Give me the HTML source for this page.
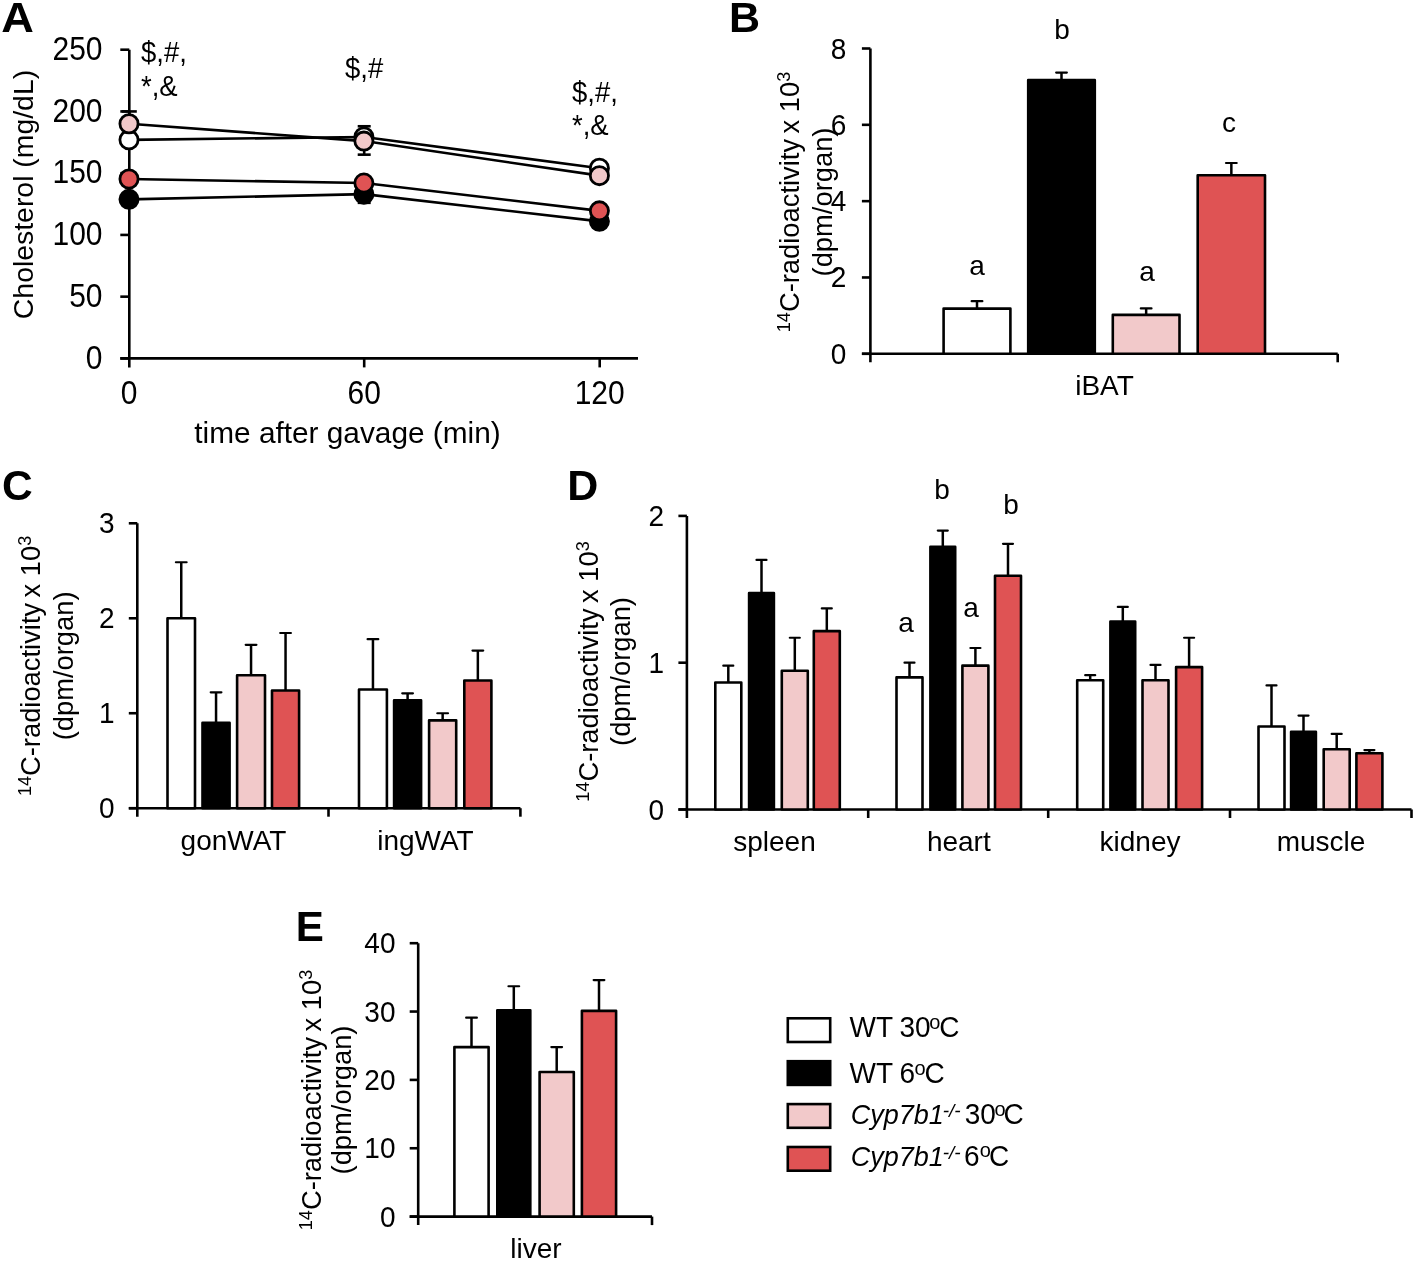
<!DOCTYPE html>
<html><head><meta charset="utf-8"><title>Figure</title>
<style>
html,body{margin:0;padding:0;background:#fff;}
body{width:1415px;height:1261px;overflow:hidden;}
svg{display:block;will-change:transform;}
text{font-family:"Liberation Sans", sans-serif;fill:#000;}
</style></head><body>
<svg width="1415" height="1261" viewBox="0 0 1415 1261">
<rect width="1415" height="1261" fill="#fff"/>
<text transform="translate(1.30 32.40) scale(1.05 1.0)" font-size="43" text-anchor="start" font-weight="bold" >A</text>
<text x="729.00" y="32.40" font-size="43" text-anchor="start" font-weight="bold" >B</text>
<text transform="translate(2.00 500.20) scale(0.99 1.0)" font-size="43" text-anchor="start" font-weight="bold" >C</text>
<text x="567.20" y="500.10" font-size="43" text-anchor="start" font-weight="bold" >D</text>
<text transform="translate(295.70 941.10) scale(0.98 1.0)" font-size="43" text-anchor="start" font-weight="bold" >E</text>
<line x1="129.30" y1="49.70" x2="129.30" y2="367.40" stroke="#000" stroke-width="2.6" stroke-linecap="butt"/>
<line x1="120.30" y1="358.40" x2="129.30" y2="358.40" stroke="#000" stroke-width="2.6" stroke-linecap="butt"/>
<text transform="translate(102.50 368.70) scale(1.0 1.09)" font-size="30" text-anchor="end" font-weight="normal" >0</text>
<line x1="120.30" y1="296.66" x2="129.30" y2="296.66" stroke="#000" stroke-width="2.6" stroke-linecap="butt"/>
<text transform="translate(102.50 306.96) scale(1.0 1.09)" font-size="30" text-anchor="end" font-weight="normal" >50</text>
<line x1="120.30" y1="234.92" x2="129.30" y2="234.92" stroke="#000" stroke-width="2.6" stroke-linecap="butt"/>
<text transform="translate(102.50 245.22) scale(1.0 1.09)" font-size="30" text-anchor="end" font-weight="normal" >100</text>
<line x1="120.30" y1="173.18" x2="129.30" y2="173.18" stroke="#000" stroke-width="2.6" stroke-linecap="butt"/>
<text transform="translate(102.50 183.48) scale(1.0 1.09)" font-size="30" text-anchor="end" font-weight="normal" >150</text>
<line x1="120.30" y1="111.44" x2="129.30" y2="111.44" stroke="#000" stroke-width="2.6" stroke-linecap="butt"/>
<text transform="translate(102.50 121.74) scale(1.0 1.09)" font-size="30" text-anchor="end" font-weight="normal" >200</text>
<line x1="120.30" y1="49.70" x2="129.30" y2="49.70" stroke="#000" stroke-width="2.6" stroke-linecap="butt"/>
<text transform="translate(102.50 60.00) scale(1.0 1.09)" font-size="30" text-anchor="end" font-weight="normal" >250</text>
<line x1="120.30" y1="358.40" x2="638.00" y2="358.40" stroke="#000" stroke-width="2.6" stroke-linecap="butt"/>
<line x1="364.20" y1="358.40" x2="364.20" y2="367.40" stroke="#000" stroke-width="2.6" stroke-linecap="butt"/>
<line x1="599.70" y1="358.40" x2="599.70" y2="367.40" stroke="#000" stroke-width="2.6" stroke-linecap="butt"/>
<text transform="translate(129.00 404.00) scale(1.0 1.08)" font-size="30" text-anchor="middle" font-weight="normal" >0</text>
<text transform="translate(364.20 404.00) scale(1.0 1.08)" font-size="30" text-anchor="middle" font-weight="normal" >60</text>
<text transform="translate(599.70 404.00) scale(1.0 1.08)" font-size="30" text-anchor="middle" font-weight="normal" >120</text>
<text x="347.50" y="443.00" font-size="29.8" text-anchor="middle" font-weight="normal" >time after gavage (min)</text>
<text transform="translate(33 194.5) rotate(-90)" font-size="28.4" text-anchor="middle">Cholesterol (mg/dL)</text>
<line x1="129.30" y1="123.79" x2="129.30" y2="111.44" stroke="#000" stroke-width="2.6" stroke-linecap="butt"/>
<line x1="121.80" y1="111.44" x2="136.80" y2="111.44" stroke="#000" stroke-width="2.6" stroke-linecap="butt"/>
<line x1="364.20" y1="136.14" x2="364.20" y2="126.26" stroke="#000" stroke-width="2.6" stroke-linecap="butt"/>
<line x1="357.70" y1="126.26" x2="370.70" y2="126.26" stroke="#000" stroke-width="2.6" stroke-linecap="butt"/>
<line x1="364.20" y1="141.08" x2="364.20" y2="154.66" stroke="#000" stroke-width="2.6" stroke-linecap="butt"/>
<line x1="357.70" y1="154.66" x2="370.70" y2="154.66" stroke="#000" stroke-width="2.6" stroke-linecap="butt"/>
<line x1="364.20" y1="194.17" x2="364.20" y2="202.82" stroke="#000" stroke-width="2.6" stroke-linecap="butt"/>
<line x1="357.70" y1="202.82" x2="370.70" y2="202.82" stroke="#000" stroke-width="2.6" stroke-linecap="butt"/>
<polyline points="129.30,199.36 364.20,194.17 599.70,221.34" fill="none" stroke="#000" stroke-width="2.6"/>
<polyline points="129.30,178.98 364.20,183.06 599.70,210.84" fill="none" stroke="#000" stroke-width="2.6"/>
<polyline points="129.30,139.84 364.20,137.00 599.70,168.24" fill="none" stroke="#000" stroke-width="2.6"/>
<polyline points="129.30,123.79 364.20,141.08 599.70,175.65" fill="none" stroke="#000" stroke-width="2.6"/>
<circle cx="129.00" cy="199.36" r="9.1" fill="#000000" stroke="#000" stroke-width="2.8"/>
<circle cx="363.90" cy="194.17" r="9.1" fill="#000000" stroke="#000" stroke-width="2.8"/>
<circle cx="599.40" cy="221.34" r="9.1" fill="#000000" stroke="#000" stroke-width="2.8"/>
<circle cx="129.00" cy="178.98" r="9.1" fill="#df5354" stroke="#000" stroke-width="2.8"/>
<circle cx="363.90" cy="183.06" r="9.1" fill="#df5354" stroke="#000" stroke-width="2.8"/>
<circle cx="599.40" cy="210.84" r="9.1" fill="#df5354" stroke="#000" stroke-width="2.8"/>
<circle cx="129.00" cy="139.84" r="9.1" fill="#ffffff" stroke="#000" stroke-width="2.8"/>
<circle cx="363.90" cy="137.00" r="9.1" fill="#ffffff" stroke="#000" stroke-width="2.8"/>
<circle cx="599.40" cy="168.24" r="9.1" fill="#ffffff" stroke="#000" stroke-width="2.8"/>
<circle cx="129.00" cy="123.79" r="9.1" fill="#f2c9ca" stroke="#000" stroke-width="2.8"/>
<circle cx="363.90" cy="141.08" r="9.1" fill="#f2c9ca" stroke="#000" stroke-width="2.8"/>
<circle cx="599.40" cy="175.65" r="9.1" fill="#f2c9ca" stroke="#000" stroke-width="2.8"/>
<text transform="translate(141.00 62.00) scale(1.0 1.1)" font-size="27.5" text-anchor="start" font-weight="normal" >$,#,</text>
<text transform="translate(141.00 96.00) scale(1.0 1.1)" font-size="27.5" text-anchor="start" font-weight="normal" >*,&amp;</text>
<text transform="translate(345.00 78.00) scale(1.0 1.1)" font-size="27.5" text-anchor="start" font-weight="normal" >$,#</text>
<text transform="translate(572.00 101.50) scale(1.0 1.1)" font-size="27.5" text-anchor="start" font-weight="normal" >$,#,</text>
<text transform="translate(572.00 135.00) scale(1.0 1.1)" font-size="27.5" text-anchor="start" font-weight="normal" >*,&amp;</text>
<line x1="870.40" y1="48.50" x2="870.40" y2="362.30" stroke="#000" stroke-width="2.6" stroke-linecap="butt"/>
<line x1="861.90" y1="353.80" x2="870.40" y2="353.80" stroke="#000" stroke-width="2.6" stroke-linecap="butt"/>
<text transform="translate(846.30 363.80) scale(1.0 1.06)" font-size="28" text-anchor="end" font-weight="normal" >0</text>
<line x1="861.90" y1="277.48" x2="870.40" y2="277.48" stroke="#000" stroke-width="2.6" stroke-linecap="butt"/>
<text transform="translate(846.30 287.48) scale(1.0 1.06)" font-size="28" text-anchor="end" font-weight="normal" >2</text>
<line x1="861.90" y1="201.15" x2="870.40" y2="201.15" stroke="#000" stroke-width="2.6" stroke-linecap="butt"/>
<text transform="translate(846.30 211.15) scale(1.0 1.06)" font-size="28" text-anchor="end" font-weight="normal" >4</text>
<line x1="861.90" y1="124.82" x2="870.40" y2="124.82" stroke="#000" stroke-width="2.6" stroke-linecap="butt"/>
<text transform="translate(846.30 134.82) scale(1.0 1.06)" font-size="28" text-anchor="end" font-weight="normal" >6</text>
<line x1="861.90" y1="48.50" x2="870.40" y2="48.50" stroke="#000" stroke-width="2.6" stroke-linecap="butt"/>
<text transform="translate(846.30 58.50) scale(1.0 1.06)" font-size="28" text-anchor="end" font-weight="normal" >8</text>
<line x1="861.90" y1="353.80" x2="1337.70" y2="353.80" stroke="#000" stroke-width="2.6" stroke-linecap="butt"/>
<line x1="1337.70" y1="353.80" x2="1337.70" y2="362.30" stroke="#000" stroke-width="2.6" stroke-linecap="butt"/>
<rect x="943.60" y="308.58" width="66.80" height="45.22" fill="#ffffff" stroke="#000" stroke-width="2.6" stroke-linejoin="round"/>
<line x1="977.00" y1="308.58" x2="977.00" y2="301.21" stroke="#000" stroke-width="2.5" stroke-linecap="butt"/>
<line x1="971.65" y1="301.21" x2="982.35" y2="301.21" stroke="#000" stroke-width="2.2" stroke-linecap="round"/>
<rect x="1028.20" y="80.17" width="66.60" height="273.63" fill="#000000" stroke="#000" stroke-width="2.6" stroke-linejoin="round"/>
<line x1="1061.50" y1="80.17" x2="1061.50" y2="72.54" stroke="#000" stroke-width="2.5" stroke-linecap="butt"/>
<line x1="1056.15" y1="72.54" x2="1066.85" y2="72.54" stroke="#000" stroke-width="2.2" stroke-linecap="round"/>
<rect x="1112.80" y="314.87" width="66.70" height="38.93" fill="#f2c9ca" stroke="#000" stroke-width="2.6" stroke-linejoin="round"/>
<line x1="1146.15" y1="314.87" x2="1146.15" y2="308.39" stroke="#000" stroke-width="2.5" stroke-linecap="butt"/>
<line x1="1140.80" y1="308.39" x2="1151.50" y2="308.39" stroke="#000" stroke-width="2.2" stroke-linecap="round"/>
<rect x="1197.70" y="175.20" width="67.30" height="178.60" fill="#df5354" stroke="#000" stroke-width="2.6" stroke-linejoin="round"/>
<line x1="1231.35" y1="175.20" x2="1231.35" y2="162.99" stroke="#000" stroke-width="2.5" stroke-linecap="butt"/>
<line x1="1226.00" y1="162.99" x2="1236.70" y2="162.99" stroke="#000" stroke-width="2.2" stroke-linecap="round"/>
<text x="977.00" y="275.00" font-size="28" text-anchor="middle" font-weight="normal" >a</text>
<text x="1062.00" y="39.20" font-size="28" text-anchor="middle" font-weight="normal" >b</text>
<text x="1147.00" y="281.00" font-size="28" text-anchor="middle" font-weight="normal" >a</text>
<text x="1229.00" y="131.50" font-size="28" text-anchor="middle" font-weight="normal" >c</text>
<text x="1104.50" y="395.40" font-size="28" text-anchor="middle" font-weight="normal" >iBAT</text>
<text transform="translate(799.00 202.00) rotate(-90) scale(0.977 1)" font-size="28" text-anchor="middle"><tspan font-size="18.5" dy="-9">14</tspan><tspan dy="9">C-radioactivity</tspan><tspan dx="-2.2"> x 10</tspan><tspan font-size="18.5" dy="-9">3</tspan></text>
<text transform="translate(832.00 202.00) rotate(-90) scale(0.977 1)" font-size="28" text-anchor="middle">(dpm/organ)</text>
<line x1="137.30" y1="523.30" x2="137.30" y2="816.70" stroke="#000" stroke-width="2.6" stroke-linecap="butt"/>
<line x1="128.80" y1="808.20" x2="137.30" y2="808.20" stroke="#000" stroke-width="2.6" stroke-linecap="butt"/>
<text transform="translate(114.50 818.20) scale(1.0 1.06)" font-size="28" text-anchor="end" font-weight="normal" >0</text>
<line x1="128.80" y1="713.23" x2="137.30" y2="713.23" stroke="#000" stroke-width="2.6" stroke-linecap="butt"/>
<text transform="translate(114.50 723.23) scale(1.0 1.06)" font-size="28" text-anchor="end" font-weight="normal" >1</text>
<line x1="128.80" y1="618.27" x2="137.30" y2="618.27" stroke="#000" stroke-width="2.6" stroke-linecap="butt"/>
<text transform="translate(114.50 628.27) scale(1.0 1.06)" font-size="28" text-anchor="end" font-weight="normal" >2</text>
<line x1="128.80" y1="523.30" x2="137.30" y2="523.30" stroke="#000" stroke-width="2.6" stroke-linecap="butt"/>
<text transform="translate(114.50 533.30) scale(1.0 1.06)" font-size="28" text-anchor="end" font-weight="normal" >3</text>
<line x1="128.80" y1="808.20" x2="520.40" y2="808.20" stroke="#000" stroke-width="2.6" stroke-linecap="butt"/>
<line x1="328.50" y1="808.20" x2="328.50" y2="816.70" stroke="#000" stroke-width="2.6" stroke-linecap="butt"/>
<line x1="520.40" y1="808.20" x2="520.40" y2="816.70" stroke="#000" stroke-width="2.6" stroke-linecap="butt"/>
<rect x="167.50" y="618.27" width="27.50" height="189.93" fill="#ffffff" stroke="#000" stroke-width="2.6" stroke-linejoin="round"/>
<line x1="181.25" y1="618.27" x2="181.25" y2="562.24" stroke="#000" stroke-width="2.5" stroke-linecap="butt"/>
<line x1="175.90" y1="562.24" x2="186.60" y2="562.24" stroke="#000" stroke-width="2.2" stroke-linecap="round"/>
<rect x="202.50" y="722.73" width="27.10" height="85.47" fill="#000000" stroke="#000" stroke-width="2.6" stroke-linejoin="round"/>
<line x1="216.05" y1="722.73" x2="216.05" y2="692.34" stroke="#000" stroke-width="2.5" stroke-linecap="butt"/>
<line x1="210.70" y1="692.34" x2="221.40" y2="692.34" stroke="#000" stroke-width="2.2" stroke-linecap="round"/>
<rect x="237.10" y="675.25" width="27.90" height="132.95" fill="#f2c9ca" stroke="#000" stroke-width="2.6" stroke-linejoin="round"/>
<line x1="251.05" y1="675.25" x2="251.05" y2="644.86" stroke="#000" stroke-width="2.5" stroke-linecap="butt"/>
<line x1="245.70" y1="644.86" x2="256.40" y2="644.86" stroke="#000" stroke-width="2.2" stroke-linecap="round"/>
<rect x="272.00" y="690.44" width="27.10" height="117.76" fill="#df5354" stroke="#000" stroke-width="2.6" stroke-linejoin="round"/>
<line x1="285.55" y1="690.44" x2="285.55" y2="632.99" stroke="#000" stroke-width="2.5" stroke-linecap="butt"/>
<line x1="280.20" y1="632.99" x2="290.90" y2="632.99" stroke="#000" stroke-width="2.2" stroke-linecap="round"/>
<rect x="359.00" y="689.49" width="27.90" height="118.71" fill="#ffffff" stroke="#000" stroke-width="2.6" stroke-linejoin="round"/>
<line x1="372.95" y1="689.49" x2="372.95" y2="639.16" stroke="#000" stroke-width="2.5" stroke-linecap="butt"/>
<line x1="367.60" y1="639.16" x2="378.30" y2="639.16" stroke="#000" stroke-width="2.2" stroke-linecap="round"/>
<rect x="394.10" y="700.41" width="27.00" height="107.79" fill="#000000" stroke="#000" stroke-width="2.6" stroke-linejoin="round"/>
<line x1="407.60" y1="700.41" x2="407.60" y2="693.29" stroke="#000" stroke-width="2.5" stroke-linecap="butt"/>
<line x1="402.25" y1="693.29" x2="412.95" y2="693.29" stroke="#000" stroke-width="2.2" stroke-linecap="round"/>
<rect x="429.10" y="720.36" width="27.10" height="87.84" fill="#f2c9ca" stroke="#000" stroke-width="2.6" stroke-linejoin="round"/>
<line x1="442.65" y1="720.36" x2="442.65" y2="713.23" stroke="#000" stroke-width="2.5" stroke-linecap="butt"/>
<line x1="437.30" y1="713.23" x2="448.00" y2="713.23" stroke="#000" stroke-width="2.2" stroke-linecap="round"/>
<rect x="464.30" y="680.47" width="27.10" height="127.73" fill="#df5354" stroke="#000" stroke-width="2.6" stroke-linejoin="round"/>
<line x1="477.85" y1="680.47" x2="477.85" y2="650.56" stroke="#000" stroke-width="2.5" stroke-linecap="butt"/>
<line x1="472.50" y1="650.56" x2="483.20" y2="650.56" stroke="#000" stroke-width="2.2" stroke-linecap="round"/>
<text x="233.50" y="850.00" font-size="28" text-anchor="middle" font-weight="normal" >gonWAT</text>
<text x="425.40" y="850.00" font-size="28" text-anchor="middle" font-weight="normal" >ingWAT</text>
<text transform="translate(40.00 665.90) rotate(-90) scale(0.977 1)" font-size="28" text-anchor="middle"><tspan font-size="18.5" dy="-9">14</tspan><tspan dy="9">C-radioactivity</tspan><tspan dx="-2.2"> x 10</tspan><tspan font-size="18.5" dy="-9">3</tspan></text>
<text transform="translate(73.00 665.90) rotate(-90) scale(0.977 1)" font-size="28" text-anchor="middle">(dpm/organ)</text>
<line x1="686.90" y1="515.90" x2="686.90" y2="818.00" stroke="#000" stroke-width="2.6" stroke-linecap="butt"/>
<line x1="678.40" y1="809.50" x2="686.90" y2="809.50" stroke="#000" stroke-width="2.6" stroke-linecap="butt"/>
<text transform="translate(664.00 819.50) scale(1.0 1.06)" font-size="28" text-anchor="end" font-weight="normal" >0</text>
<line x1="678.40" y1="662.70" x2="686.90" y2="662.70" stroke="#000" stroke-width="2.6" stroke-linecap="butt"/>
<text transform="translate(664.00 672.70) scale(1.0 1.06)" font-size="28" text-anchor="end" font-weight="normal" >1</text>
<line x1="678.40" y1="515.90" x2="686.90" y2="515.90" stroke="#000" stroke-width="2.6" stroke-linecap="butt"/>
<text transform="translate(664.00 525.90) scale(1.0 1.06)" font-size="28" text-anchor="end" font-weight="normal" >2</text>
<line x1="678.40" y1="809.50" x2="1411.50" y2="809.50" stroke="#000" stroke-width="2.6" stroke-linecap="butt"/>
<line x1="868.20" y1="809.50" x2="868.20" y2="818.00" stroke="#000" stroke-width="2.6" stroke-linecap="butt"/>
<line x1="1048.20" y1="809.50" x2="1048.20" y2="818.00" stroke="#000" stroke-width="2.6" stroke-linecap="butt"/>
<line x1="1230.00" y1="809.50" x2="1230.00" y2="818.00" stroke="#000" stroke-width="2.6" stroke-linecap="butt"/>
<line x1="1411.50" y1="809.50" x2="1411.50" y2="818.00" stroke="#000" stroke-width="2.6" stroke-linecap="butt"/>
<rect x="715.30" y="682.52" width="26.00" height="126.98" fill="#ffffff" stroke="#000" stroke-width="2.6" stroke-linejoin="round"/>
<line x1="728.30" y1="682.52" x2="728.30" y2="665.64" stroke="#000" stroke-width="2.5" stroke-linecap="butt"/>
<line x1="723.30" y1="665.64" x2="733.30" y2="665.64" stroke="#000" stroke-width="2.2" stroke-linecap="round"/>
<rect x="749.10" y="592.97" width="24.80" height="216.53" fill="#000000" stroke="#000" stroke-width="2.6" stroke-linejoin="round"/>
<line x1="761.50" y1="592.97" x2="761.50" y2="559.94" stroke="#000" stroke-width="2.5" stroke-linecap="butt"/>
<line x1="756.50" y1="559.94" x2="766.50" y2="559.94" stroke="#000" stroke-width="2.2" stroke-linecap="round"/>
<rect x="781.80" y="670.77" width="26.00" height="138.73" fill="#f2c9ca" stroke="#000" stroke-width="2.6" stroke-linejoin="round"/>
<line x1="794.80" y1="670.77" x2="794.80" y2="637.74" stroke="#000" stroke-width="2.5" stroke-linecap="butt"/>
<line x1="789.80" y1="637.74" x2="799.80" y2="637.74" stroke="#000" stroke-width="2.2" stroke-linecap="round"/>
<rect x="813.80" y="631.14" width="26.00" height="178.36" fill="#df5354" stroke="#000" stroke-width="2.6" stroke-linejoin="round"/>
<line x1="826.80" y1="631.14" x2="826.80" y2="608.38" stroke="#000" stroke-width="2.5" stroke-linecap="butt"/>
<line x1="821.80" y1="608.38" x2="831.80" y2="608.38" stroke="#000" stroke-width="2.2" stroke-linecap="round"/>
<rect x="896.50" y="677.38" width="26.00" height="132.12" fill="#ffffff" stroke="#000" stroke-width="2.6" stroke-linejoin="round"/>
<line x1="909.50" y1="677.38" x2="909.50" y2="662.70" stroke="#000" stroke-width="2.5" stroke-linecap="butt"/>
<line x1="904.50" y1="662.70" x2="914.50" y2="662.70" stroke="#000" stroke-width="2.2" stroke-linecap="round"/>
<rect x="930.40" y="546.73" width="24.80" height="262.77" fill="#000000" stroke="#000" stroke-width="2.6" stroke-linejoin="round"/>
<line x1="942.80" y1="546.73" x2="942.80" y2="530.58" stroke="#000" stroke-width="2.5" stroke-linecap="butt"/>
<line x1="937.80" y1="530.58" x2="947.80" y2="530.58" stroke="#000" stroke-width="2.2" stroke-linecap="round"/>
<rect x="962.40" y="665.64" width="26.00" height="143.86" fill="#f2c9ca" stroke="#000" stroke-width="2.6" stroke-linejoin="round"/>
<line x1="975.40" y1="665.64" x2="975.40" y2="648.02" stroke="#000" stroke-width="2.5" stroke-linecap="butt"/>
<line x1="970.40" y1="648.02" x2="980.40" y2="648.02" stroke="#000" stroke-width="2.2" stroke-linecap="round"/>
<rect x="995.00" y="575.79" width="26.00" height="233.71" fill="#df5354" stroke="#000" stroke-width="2.6" stroke-linejoin="round"/>
<line x1="1008.00" y1="575.79" x2="1008.00" y2="543.79" stroke="#000" stroke-width="2.5" stroke-linecap="butt"/>
<line x1="1003.00" y1="543.79" x2="1013.00" y2="543.79" stroke="#000" stroke-width="2.2" stroke-linecap="round"/>
<rect x="1077.20" y="680.32" width="26.00" height="129.18" fill="#ffffff" stroke="#000" stroke-width="2.6" stroke-linejoin="round"/>
<line x1="1090.20" y1="680.32" x2="1090.20" y2="675.18" stroke="#000" stroke-width="2.5" stroke-linecap="butt"/>
<line x1="1085.20" y1="675.18" x2="1095.20" y2="675.18" stroke="#000" stroke-width="2.2" stroke-linecap="round"/>
<rect x="1110.40" y="621.60" width="24.80" height="187.90" fill="#000000" stroke="#000" stroke-width="2.6" stroke-linejoin="round"/>
<line x1="1122.80" y1="621.60" x2="1122.80" y2="606.92" stroke="#000" stroke-width="2.5" stroke-linecap="butt"/>
<line x1="1117.80" y1="606.92" x2="1127.80" y2="606.92" stroke="#000" stroke-width="2.2" stroke-linecap="round"/>
<rect x="1142.50" y="680.32" width="26.00" height="129.18" fill="#f2c9ca" stroke="#000" stroke-width="2.6" stroke-linejoin="round"/>
<line x1="1155.50" y1="680.32" x2="1155.50" y2="664.90" stroke="#000" stroke-width="2.5" stroke-linecap="butt"/>
<line x1="1150.50" y1="664.90" x2="1160.50" y2="664.90" stroke="#000" stroke-width="2.2" stroke-linecap="round"/>
<rect x="1176.10" y="667.10" width="26.00" height="142.40" fill="#df5354" stroke="#000" stroke-width="2.6" stroke-linejoin="round"/>
<line x1="1189.10" y1="667.10" x2="1189.10" y2="637.74" stroke="#000" stroke-width="2.5" stroke-linecap="butt"/>
<line x1="1184.10" y1="637.74" x2="1194.10" y2="637.74" stroke="#000" stroke-width="2.2" stroke-linecap="round"/>
<rect x="1258.50" y="726.56" width="26.00" height="82.94" fill="#ffffff" stroke="#000" stroke-width="2.6" stroke-linejoin="round"/>
<line x1="1271.50" y1="726.56" x2="1271.50" y2="685.45" stroke="#000" stroke-width="2.5" stroke-linecap="butt"/>
<line x1="1266.50" y1="685.45" x2="1276.50" y2="685.45" stroke="#000" stroke-width="2.2" stroke-linecap="round"/>
<rect x="1291.10" y="731.70" width="24.80" height="77.80" fill="#000000" stroke="#000" stroke-width="2.6" stroke-linejoin="round"/>
<line x1="1303.50" y1="731.70" x2="1303.50" y2="715.55" stroke="#000" stroke-width="2.5" stroke-linecap="butt"/>
<line x1="1298.50" y1="715.55" x2="1308.50" y2="715.55" stroke="#000" stroke-width="2.2" stroke-linecap="round"/>
<rect x="1323.70" y="749.31" width="26.00" height="60.19" fill="#f2c9ca" stroke="#000" stroke-width="2.6" stroke-linejoin="round"/>
<line x1="1336.70" y1="749.31" x2="1336.70" y2="733.90" stroke="#000" stroke-width="2.5" stroke-linecap="butt"/>
<line x1="1331.70" y1="733.90" x2="1341.70" y2="733.90" stroke="#000" stroke-width="2.2" stroke-linecap="round"/>
<rect x="1356.40" y="753.28" width="26.00" height="56.22" fill="#df5354" stroke="#000" stroke-width="2.6" stroke-linejoin="round"/>
<line x1="1369.40" y1="753.28" x2="1369.40" y2="750.05" stroke="#000" stroke-width="2.5" stroke-linecap="butt"/>
<line x1="1364.40" y1="750.05" x2="1374.40" y2="750.05" stroke="#000" stroke-width="2.2" stroke-linecap="round"/>
<text x="906.00" y="631.50" font-size="28" text-anchor="middle" font-weight="normal" >a</text>
<text x="942.00" y="499.00" font-size="28" text-anchor="middle" font-weight="normal" >b</text>
<text x="971.00" y="617.00" font-size="28" text-anchor="middle" font-weight="normal" >a</text>
<text x="1011.00" y="513.50" font-size="28" text-anchor="middle" font-weight="normal" >b</text>
<text x="774.50" y="851.00" font-size="28" text-anchor="middle" font-weight="normal" >spleen</text>
<text x="958.80" y="851.00" font-size="28" text-anchor="middle" font-weight="normal" >heart</text>
<text x="1140.00" y="851.00" font-size="28" text-anchor="middle" font-weight="normal" >kidney</text>
<text x="1321.00" y="851.00" font-size="28" text-anchor="middle" font-weight="normal" >muscle</text>
<text transform="translate(598.00 671.50) rotate(-90) scale(0.977 1)" font-size="28" text-anchor="middle"><tspan font-size="18.5" dy="-9">14</tspan><tspan dy="9">C-radioactivity</tspan><tspan dx="-2.2"> x 10</tspan><tspan font-size="18.5" dy="-9">3</tspan></text>
<text transform="translate(629.50 671.50) rotate(-90) scale(0.977 1)" font-size="28" text-anchor="middle">(dpm/organ)</text>
<line x1="418.20" y1="943.20" x2="418.20" y2="1225.10" stroke="#000" stroke-width="2.6" stroke-linecap="butt"/>
<line x1="409.70" y1="1216.60" x2="418.20" y2="1216.60" stroke="#000" stroke-width="2.6" stroke-linecap="butt"/>
<text transform="translate(395.50 1226.60) scale(1.0 1.06)" font-size="28" text-anchor="end" font-weight="normal" >0</text>
<line x1="409.70" y1="1148.25" x2="418.20" y2="1148.25" stroke="#000" stroke-width="2.6" stroke-linecap="butt"/>
<text transform="translate(395.50 1158.25) scale(1.0 1.06)" font-size="28" text-anchor="end" font-weight="normal" >10</text>
<line x1="409.70" y1="1079.90" x2="418.20" y2="1079.90" stroke="#000" stroke-width="2.6" stroke-linecap="butt"/>
<text transform="translate(395.50 1089.90) scale(1.0 1.06)" font-size="28" text-anchor="end" font-weight="normal" >20</text>
<line x1="409.70" y1="1011.55" x2="418.20" y2="1011.55" stroke="#000" stroke-width="2.6" stroke-linecap="butt"/>
<text transform="translate(395.50 1021.55) scale(1.0 1.06)" font-size="28" text-anchor="end" font-weight="normal" >30</text>
<line x1="409.70" y1="943.20" x2="418.20" y2="943.20" stroke="#000" stroke-width="2.6" stroke-linecap="butt"/>
<text transform="translate(395.50 953.20) scale(1.0 1.06)" font-size="28" text-anchor="end" font-weight="normal" >40</text>
<line x1="409.70" y1="1216.60" x2="652.00" y2="1216.60" stroke="#000" stroke-width="2.6" stroke-linecap="butt"/>
<line x1="652.00" y1="1216.60" x2="652.00" y2="1225.10" stroke="#000" stroke-width="2.6" stroke-linecap="butt"/>
<rect x="454.40" y="1047.09" width="34.20" height="169.51" fill="#ffffff" stroke="#000" stroke-width="2.6" stroke-linejoin="round"/>
<line x1="471.50" y1="1047.09" x2="471.50" y2="1017.70" stroke="#000" stroke-width="2.5" stroke-linecap="butt"/>
<line x1="466.15" y1="1017.70" x2="476.85" y2="1017.70" stroke="#000" stroke-width="2.2" stroke-linecap="round"/>
<rect x="497.30" y="1010.18" width="33.00" height="206.42" fill="#000000" stroke="#000" stroke-width="2.6" stroke-linejoin="round"/>
<line x1="513.80" y1="1010.18" x2="513.80" y2="986.26" stroke="#000" stroke-width="2.5" stroke-linecap="butt"/>
<line x1="508.45" y1="986.26" x2="519.15" y2="986.26" stroke="#000" stroke-width="2.2" stroke-linecap="round"/>
<rect x="539.60" y="1072.04" width="34.20" height="144.56" fill="#f2c9ca" stroke="#000" stroke-width="2.6" stroke-linejoin="round"/>
<line x1="556.70" y1="1072.04" x2="556.70" y2="1047.09" stroke="#000" stroke-width="2.5" stroke-linecap="butt"/>
<line x1="551.35" y1="1047.09" x2="562.05" y2="1047.09" stroke="#000" stroke-width="2.2" stroke-linecap="round"/>
<rect x="581.90" y="1010.87" width="34.20" height="205.73" fill="#df5354" stroke="#000" stroke-width="2.6" stroke-linejoin="round"/>
<line x1="599.00" y1="1010.87" x2="599.00" y2="980.11" stroke="#000" stroke-width="2.5" stroke-linecap="butt"/>
<line x1="593.65" y1="980.11" x2="604.35" y2="980.11" stroke="#000" stroke-width="2.2" stroke-linecap="round"/>
<text x="536.00" y="1258.00" font-size="28" text-anchor="middle" font-weight="normal" >liver</text>
<text transform="translate(321.00 1100.00) rotate(-90) scale(0.977 1)" font-size="28" text-anchor="middle"><tspan font-size="18.5" dy="-9">14</tspan><tspan dy="9">C-radioactivity</tspan><tspan dx="-2.2"> x 10</tspan><tspan font-size="18.5" dy="-9">3</tspan></text>
<text transform="translate(351.00 1100.00) rotate(-90) scale(0.977 1)" font-size="28" text-anchor="middle">(dpm/organ)</text>
<rect x="787.8" y="1018.30" width="42.4" height="23.7" fill="#ffffff" stroke="#000" stroke-width="2.6"/>
<rect x="787.8" y="1061.20" width="42.4" height="23.7" fill="#000000" stroke="#000" stroke-width="2.6"/>
<rect x="787.8" y="1104.10" width="42.4" height="23.7" fill="#f2c9ca" stroke="#000" stroke-width="2.6"/>
<rect x="787.8" y="1147.00" width="42.4" height="23.7" fill="#df5354" stroke="#000" stroke-width="2.6"/>
<text transform="translate(849.60 1037.10) scale(1.0 1.04)" font-size="28" text-anchor="start" font-weight="normal" >WT</text>
<text transform="translate(899.50 1037.10) scale(1.0 1.04)" font-size="28" text-anchor="start" font-weight="normal" >30</text>
<text x="929.30" y="1028.80" font-size="20" text-anchor="start" font-weight="normal" >o</text>
<text transform="translate(939.30 1037.10) scale(1.0 1.04)" font-size="28" text-anchor="start" font-weight="normal" >C</text>
<text transform="translate(849.60 1082.50) scale(1.0 1.04)" font-size="28" text-anchor="start" font-weight="normal" >WT</text>
<text transform="translate(899.50 1082.50) scale(1.0 1.04)" font-size="28" text-anchor="start" font-weight="normal" >6</text>
<text x="914.50" y="1075.00" font-size="20" text-anchor="start" font-weight="normal" >o</text>
<text transform="translate(924.50 1082.50) scale(1.0 1.04)" font-size="28" text-anchor="start" font-weight="normal" >C</text>
<text transform="translate(850.70 1123.90) scale(1.0 1.04)" font-size="27" text-anchor="start" font-weight="normal" font-style="italic" >Cyp7b1</text>
<text x="942.70" y="1117.00" font-size="19" text-anchor="start" font-weight="normal" font-style="italic" >-/-</text>
<text transform="translate(964.80 1123.90) scale(1.0 1.04)" font-size="28" text-anchor="start" font-weight="normal" >30</text>
<text x="994.50" y="1116.00" font-size="20" text-anchor="start" font-weight="normal" >o</text>
<text transform="translate(1003.60 1123.90) scale(1.0 1.04)" font-size="28" text-anchor="start" font-weight="normal" >C</text>
<text transform="translate(850.70 1165.50) scale(1.0 1.04)" font-size="27" text-anchor="start" font-weight="normal" font-style="italic" >Cyp7b1</text>
<text x="942.70" y="1158.60" font-size="19" text-anchor="start" font-weight="normal" font-style="italic" >-/-</text>
<text transform="translate(964.10 1165.50) scale(1.0 1.04)" font-size="28" text-anchor="start" font-weight="normal" >6</text>
<text x="979.70" y="1157.10" font-size="20" text-anchor="start" font-weight="normal" >o</text>
<text transform="translate(989.00 1165.50) scale(1.0 1.04)" font-size="28" text-anchor="start" font-weight="normal" >C</text>
</svg>
</body></html>
